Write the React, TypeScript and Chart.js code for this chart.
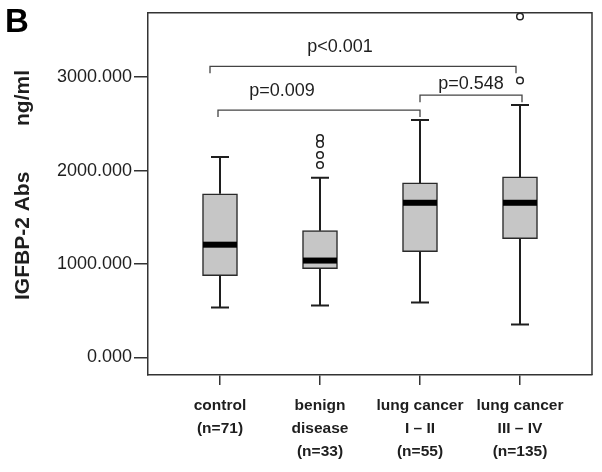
import { useEffect, useRef } from 'react';
import { Chart, registerables } from 'chart.js';

Chart.register(...registerables);

// ---- data ----
const categories: string[][] = [
  ['control', '(n=71)'],
  ['benign', 'disease', '(n=33)'],
  ['lung cancer', 'I \u2013 II', '(n=55)'],
  ['lung cancer', 'III \u2013 IV', '(n=135)'],
];
const whiskerLow = [534, 555, 587, 352];
const q1 = [875, 950, 1132, 1270];
const median = [1206, 1036, 1655, 1655];
const q3 = [1751, 1356, 1868, 1932];
const whiskerHigh = [2146, 1922, 2541, 2701];
const outlierX = [2, 2, 2, 2, 4, 4];
const outlierY = [2349, 2285, 2167, 2060, 3651, 2965];
const yTicks = [0, 1000, 2000, 3000];

const bracketLabels = ['p<0.001', 'p=0.009', 'p=0.548'];
const bracketStart = [0.9, 0.98, 3.0];
const bracketEnd = [3.96, 3.0, 4.02];
const bracketY = [3117, 2648, 2808];
const bracketTextX = [2.2, 1.62, 3.51];
const bracketTextY = [3320, 2850, 2925];

const FAMILY = '"Liberation Sans", Arial, Helvetica, sans-serif';
const INK = '#1e1e1e';

const overlay = {
  id: 'boxOverlay',
  afterDatasetsDraw(chart: any) {
    const { ctx, chartArea, scales } = chart;
    const xs = scales.x;
    const ys = scales.y;
    ctx.save();
    // frame top & right
    ctx.strokeStyle = '#333';
    ctx.lineWidth = 1.5;
    ctx.beginPath();
    ctx.moveTo(chartArea.left, chartArea.top);
    ctx.lineTo(chartArea.right, chartArea.top);
    ctx.lineTo(chartArea.right, chartArea.bottom);
    ctx.stroke();

    // whiskers and medians
    categories.forEach((_, i) => {
      const cx = xs.getPixelForValue(i + 1);
      const yq1 = ys.getPixelForValue(q1[i]);
      const yq3 = ys.getPixelForValue(q3[i]);
      const yl = ys.getPixelForValue(whiskerLow[i]);
      const yh = ys.getPixelForValue(whiskerHigh[i]);
      const ym = ys.getPixelForValue(median[i]);
      ctx.strokeStyle = INK;
      ctx.lineWidth = 2;
      ctx.beginPath();
      ctx.moveTo(cx, yq3);
      ctx.lineTo(cx, yh);
      ctx.moveTo(cx, yq1);
      ctx.lineTo(cx, yl);
      ctx.moveTo(cx - 9, yh);
      ctx.lineTo(cx + 9, yh);
      ctx.moveTo(cx - 9, yl);
      ctx.lineTo(cx + 9, yl);
      ctx.stroke();
      ctx.fillStyle = '#000';
      ctx.fillRect(cx - 17, ym - 3, 34, 6);
    });

    // brackets
    ctx.strokeStyle = '#444';
    ctx.lineWidth = 1.3;
    ctx.fillStyle = INK;
    ctx.font = `18px ${FAMILY}`;
    ctx.textAlign = 'center';
    ctx.textBaseline = 'middle';
    bracketLabels.forEach((lab, i) => {
      const x0 = xs.getPixelForValue(bracketStart[i]);
      const x1 = xs.getPixelForValue(bracketEnd[i]);
      const y = ys.getPixelForValue(bracketY[i]);
      ctx.beginPath();
      ctx.moveTo(x0, y + 7);
      ctx.lineTo(x0, y);
      ctx.lineTo(x1, y);
      ctx.lineTo(x1, y + 7);
      ctx.stroke();
      ctx.fillText(lab, xs.getPixelForValue(bracketTextX[i]), ys.getPixelForValue(bracketTextY[i]));
    });

    // panel letter
    ctx.textAlign = 'left';
    ctx.textBaseline = 'alphabetic';
    ctx.font = `bold 33px ${FAMILY}`;
    ctx.fillStyle = '#000';
    ctx.fillText('B', 5, 32);

    // y-axis title
    ctx.translate(29, 0);
    ctx.rotate(-Math.PI / 2);
    ctx.font = `bold 21px ${FAMILY}`;
    ctx.fillStyle = INK;
    ctx.textAlign = 'left';
    ctx.fillText('IGFBP-2 Abs', -300, 0);
    ctx.textAlign = 'right';
    ctx.fillText('ng/ml', -70, 0);
    ctx.restore();
  },
};

export default function App() {
  const ref = useRef<HTMLCanvasElement>(null);
  useEffect(() => {
    const chart = new Chart(ref.current as HTMLCanvasElement, {
      type: 'bar',
      data: {
        datasets: [
          {
            type: 'bar',
            data: categories.map((_, i) => ({ x: i + 1, y: [q1[i], q3[i]] })) as any,
            backgroundColor: '#c6c6c6',
            borderColor: '#2a2a2a',
            borderWidth: 1.5,
            borderSkipped: false,
            barThickness: 35,
            grouped: false,
          } as any,
          {
            type: 'scatter',
            data: outlierX.map((x, i) => ({ x, y: outlierY[i] })),
            pointStyle: 'circle',
            pointRadius: 3.3,
            borderColor: '#222',
            borderWidth: 1.5,
            backgroundColor: '#fff',
          } as any,
        ],
      },
      options: {
        responsive: false,
        animation: false,
        layout: { padding: { top: 11, right: 10, left: 0, bottom: 0 } },
        plugins: { legend: { display: false }, tooltip: { enabled: false } },
        scales: {
          x: {
            type: 'linear',
            min: 0.28,
            max: 4.72,
            offset: false,
            afterBuildTicks: (s: any) => {
              s.ticks = categories.map((_, i) => ({ value: i + 1 }));
            },
            afterFit: (s: any) => {
              s.height = 97;
            },
            ticks: {
              callback: (v: any) => categories[Math.round(Number(v)) - 1] ?? '',
              color: INK,
              font: { family: FAMILY, size: 15.5, weight: 'bold', lineHeight: 1.48 },
              padding: 9,
              autoSkip: false,
              maxRotation: 0,
            },
            grid: { offset: false, drawOnChartArea: false, drawTicks: true, tickLength: 10, color: '#333', lineWidth: 1.5 },
            border: { display: true, color: '#333', width: 1.5 },
          },
          y: {
            min: -190,
            max: 3690,
            afterBuildTicks: (s: any) => {
              s.ticks = yTicks.map((v) => ({ value: v }));
            },
            afterFit: (s: any) => {
              s.width = 148;
            },
            ticks: {
              callback: (v: any) => Number(v).toFixed(3),
              color: INK,
              font: { family: FAMILY, size: 18 },
              padding: 2,
            },
            grid: { drawOnChartArea: false, drawTicks: true, tickLength: 14, color: '#333', lineWidth: 1.5 },
            border: { display: true, color: '#333', width: 1.5 },
          },
        },
      } as any,
      plugins: [overlay],
    });
    return () => chart.destroy();
  }, []);
  return (
    <div style={{ position: 'absolute', left: 0, top: 0, width: 602, height: 472, background: '#fff' }}>
      <canvas ref={ref} width={602} height={472} />
    </div>
  );
}
